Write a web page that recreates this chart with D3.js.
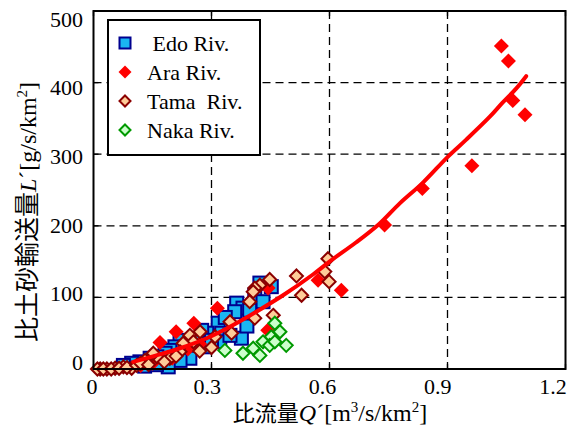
<!DOCTYPE html>
<html>
<head>
<meta charset="utf-8">
<script src="https://cdn.jsdelivr.net/npm/d3@7"></script>
<style>
body { margin: 0; background: #fff; }
text { font-family: "Liberation Serif", "Times New Roman", serif; }
.jp { font-family: "Noto Sans CJK JP", sans-serif; }
</style>
</head>
<body>
<script>
// values
var xTicks = [0, 0.3, 0.6, 0.9, 1.2],
    yTicks = [0, 100, 200, 300, 400, 500],
    xTickLabels = ["0", "0.3", "0.6", "0.9", "1.2"],
    yTickLabels = ["0", "100", "200", "300", "400", "500"];

var edo = [[0.452,115],[0.423,120],[0.41,103],[0.431,94],[0.364,92],[0.38,85],[0.359,80],[0.397,82],
  [0.317,64],[0.326,50],[0.321,38],[0.376,43],[0.347,47],[0.288,50],[0.275,54],[0.283,31],[0.262,38],
  [0.245,31],[0.232,26],[0.22,40],[0.207,31],[0.194,26],[0.182,22],[0.161,17],[0.144,15],[0.118,10],
  [0.097,8],[0.076,5],[0.245,15],[0.22,12],[0.19,3],[0.13,4],[0.16,6],[0.335,72],[0.39,60],[0.3,40]];
var ara = [[1.037,451],[1.055,430],[1.066,375],[1.097,355],[0.962,284],[0.836,252],[0.74,201],
  [0.571,124],[0.63,110],[0.315,85],[0.443,54],[0.444,113],[0.255,64],[0.21,52],[0.169,37],
  [0.2,15],[0.24,28],[0.15,8],[0.27,35],[0.12,5]];
var tama = [[0.448,125],[0.423,117],[0.41,113],[0.406,108],[0.397,94],[0.516,130],[0.529,103],
  [0.457,75],[0.41,71],[0.347,66],[0.351,50],[0.309,45],[0.271,52],[0.245,47],[0.254,38],[0.228,36],
  [0.22,24],[0.194,15],[0.161,17],[0.152,22],[0.131,12],[0.097,1],[0.076,3],[0.055,1],[0.034,0],
  [0.017,0],[0.596,154],[0.588,136],[0.599,122],[0.01,0],[0.025,0],[0.045,0],[0.065,1],[0.085,2],
  [0.11,5],[0.12,8],[0.14,6],[0.18,10],[0.21,18],[0.27,25],[0.3,30]];
var naka = [[0.334,26],[0.38,22],[0.406,29],[0.423,19],[0.431,38],[0.452,45],[0.461,64],[0.474,52],
  [0.448,33],[0.461,38],[0.49,33]];
var fitLine = [[0.101,10],[0.16,19],[0.22,29],[0.288,43],[0.347,59],[0.414,80],[0.482,103],
  [0.558,132],[0.6,150],[0.668,177],[0.727,203],[0.778,231],[0.837,260],[0.9,296],[0.947,320],
  [1.007,352],[1.04,372],[1.075,392],[1.1,409]];

var W = 578, H = 432,
    L = 93.5, R = 565.5, T = 11, B = 369;

var svg = d3.select("body").append("svg").attr("width", W).attr("height", H);

var x = d3.scaleLinear().domain([0, 1.2]).range([L, R]),
    y = d3.scaleLinear().domain([0, 500]).range([B, T]);
// tick labels in the picture sit slightly inside the tick positions
var xl = d3.scaleLinear().domain([0, 1.2]).range([92, 553]),
    yl = d3.scaleLinear().domain([0, 500]).range([362, 19]);

// grid
var grid = svg.append("g").attr("stroke", "#000").attr("stroke-width", 1.3).attr("stroke-dasharray", "8,5");
grid.selectAll(".gx").data(xTicks.slice(1, -1)).enter().append("line")
  .attr("x1", d => x(d)).attr("x2", d => x(d)).attr("y1", T).attr("y2", B);
grid.selectAll(".gy").data(yTicks.slice(1, -1)).enter().append("line")
  .attr("x1", L).attr("x2", R).attr("y1", d => y(d)).attr("y2", d => y(d));

// inner ticks on all four sides
var tk = svg.append("g").attr("stroke", "#000").attr("stroke-width", 1.3);
xTicks.forEach(function(d){
  tk.append("line").attr("x1", x(d)).attr("x2", x(d)).attr("y1", B).attr("y2", B - 5);
  tk.append("line").attr("x1", x(d)).attr("x2", x(d)).attr("y1", T).attr("y2", T + 5);
});
yTicks.forEach(function(d){
  tk.append("line").attr("x1", L).attr("x2", L + 5).attr("y1", y(d)).attr("y2", y(d));
  tk.append("line").attr("x1", R).attr("x2", R - 5).attr("y1", y(d)).attr("y2", y(d));
});

var diamond = function(r){ return "M0," + (-r) + "L" + r + ",0L0," + r + "L" + (-r) + ",0Z"; };

// points
svg.append("g").selectAll("rect").data(edo).enter().append("rect")
  .attr("x", d => x(d[0]) - 6.5).attr("y", d => y(d[1]) - 6.5).attr("width", 13).attr("height", 13)
  .attr("fill", "#1ab6f2").attr("stroke", "#00008f").attr("stroke-width", 2);
svg.append("g").selectAll("path").data(ara).enter().append("path")
  .attr("transform", d => "translate(" + x(d[0]) + "," + y(d[1]) + ")")
  .attr("d", diamond(7.5)).attr("fill", "#ff0000");
svg.append("g").selectAll("path").data(tama).enter().append("path")
  .attr("transform", d => "translate(" + x(d[0]) + "," + y(d[1]) + ")")
  .attr("d", diamond(6.5)).attr("fill", "#ffcc99").attr("stroke", "#8b0000").attr("stroke-width", 2);
svg.append("g").selectAll("path").data(naka).enter().append("path")
  .attr("transform", d => "translate(" + x(d[0]) + "," + y(d[1]) + ")")
  .attr("d", diamond(6.5)).attr("fill", "#ccffcc").attr("stroke", "#009900").attr("stroke-width", 2);

// fitted curve
svg.append("path").datum(fitLine)
  .attr("d", d3.line().x(d => x(d[0])).y(d => y(d[1])).curve(d3.curveCatmullRom))
  .attr("fill", "none").attr("stroke", "#ff0000").attr("stroke-width", 4).attr("stroke-linecap", "round");

// frame
svg.append("rect").attr("x", L).attr("y", T).attr("width", R - L).attr("height", B - T)
  .attr("fill", "none").attr("stroke", "#000").attr("stroke-width", 2);

// tick labels
svg.append("g").selectAll("text").data(xTicks).enter().append("text")
  .attr("x", d => xl(d)).attr("y", 394).attr("text-anchor", "middle").attr("font-size", 22)
  .text((d, i) => xTickLabels[i]);
svg.append("g").selectAll("text").data(yTicks).enter().append("text")
  .attr("x", 83).attr("y", d => yl(d)).attr("dy", "0.35em").attr("text-anchor", "end").attr("font-size", 22)
  .text((d, i) => yTickLabels[i]);

// axis titles
var xt = svg.append("text").attr("x", 330).attr("y", 421).attr("text-anchor", "middle").attr("font-size", 24);
xt.append("tspan").attr("class", "jp").attr("font-size", 22).text("比流量");
xt.append("tspan").attr("font-style", "italic").text("Q");
xt.append("tspan").text("´[m");
xt.append("tspan").attr("font-size", 15).attr("dy", -9).text("3");
xt.append("tspan").attr("dy", 9).text("/s/km");
xt.append("tspan").attr("font-size", 15).attr("dy", -9).text("2");
xt.append("tspan").attr("dy", 9).text("]");

var yt = svg.append("text").attr("transform", "translate(36,212) rotate(-90)")
  .attr("text-anchor", "middle").attr("font-size", 24);
yt.append("tspan").attr("class", "jp").attr("font-size", 25).text("比土砂輸送量");
yt.append("tspan").attr("font-style", "italic").text("L");
yt.append("tspan").text("´[g/s/km");
yt.append("tspan").attr("font-size", 15).attr("dy", -9).text("2");
yt.append("tspan").attr("dy", 9).text("]");

// legend
var legNames = [" Edo Riv.", "Ara Riv.", "Tama  Riv.", "Naka Riv."];
var lg = svg.append("g");
lg.append("rect").attr("x", 108).attr("y", 20).attr("width", 152).attr("height", 135)
  .attr("fill", "#fff").attr("stroke", "#000").attr("stroke-width", 2);
var ly = d3.scalePoint().domain(d3.range(4)).range([43, 130]);
lg.append("rect").attr("x", 125 - 5.5).attr("y", ly(0) - 5.5).attr("width", 11).attr("height", 11)
  .attr("fill", "#1ab6f2").attr("stroke", "#00008f").attr("stroke-width", 2);
lg.append("path").attr("transform", "translate(125," + ly(1) + ")").attr("d", diamond(6.5)).attr("fill", "#ff0000");
lg.append("path").attr("transform", "translate(125," + ly(2) + ")").attr("d", diamond(5.5))
  .attr("fill", "#ffcc99").attr("stroke", "#8b0000").attr("stroke-width", 2);
lg.append("path").attr("transform", "translate(125," + ly(3) + ")").attr("d", diamond(5.5))
  .attr("fill", "#ccffcc").attr("stroke", "#009900").attr("stroke-width", 2);
lg.selectAll(".lt").data(legNames).enter().append("text")
  .attr("x", 147).attr("y", (d, i) => ly(i)).attr("dy", "0.35em").attr("font-size", 22)
  .style("white-space", "pre").text(d => d);
</script>
</body>
</html>
